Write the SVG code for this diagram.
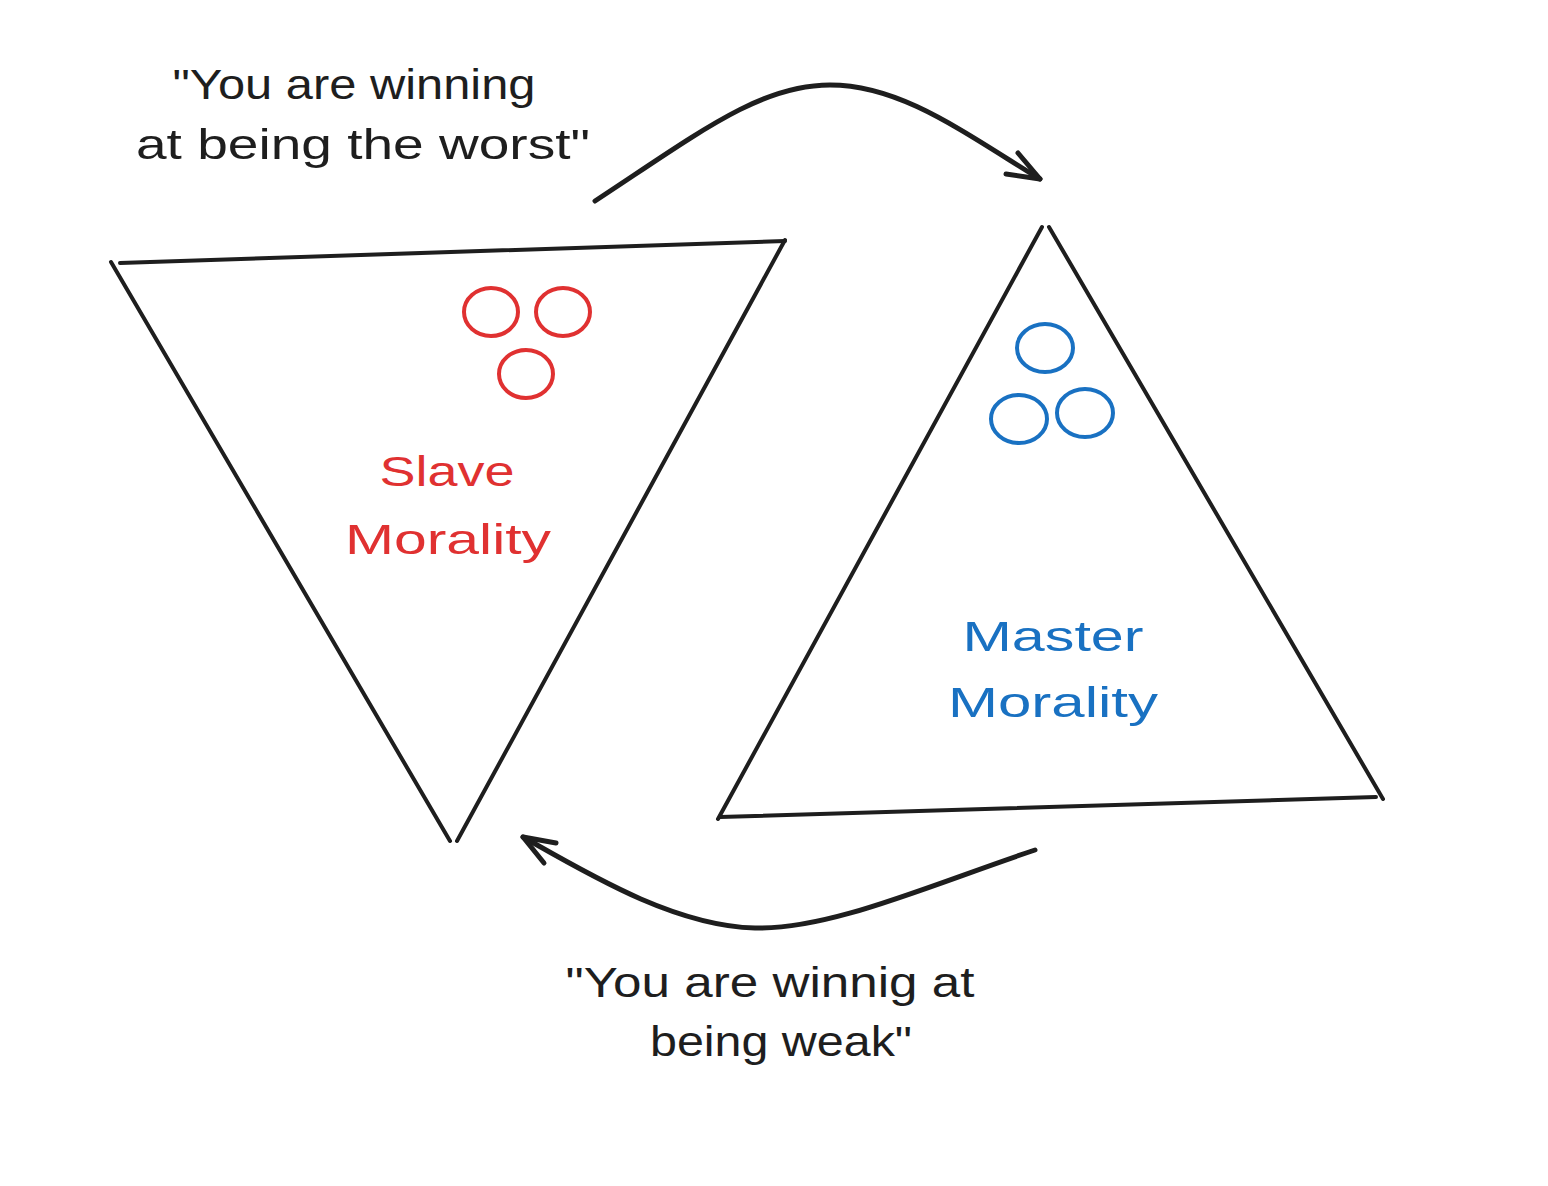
<svg xmlns="http://www.w3.org/2000/svg" width="1548" height="1186" viewBox="0 0 1548 1186">
<style>
.ln{fill:none;stroke:#1e1e1e;stroke-width:4;stroke-linecap:round;stroke-linejoin:round}
.ar{stroke-width:5}
.red{fill:none;stroke:#e03131;stroke-width:4}
.blue{fill:none;stroke:#1971c2;stroke-width:4}
.t{font-family:"Liberation Sans",Arial,sans-serif;font-size:42px;fill:#1e1e1e;text-anchor:middle}
.tr{fill:#e03131}
.tb{fill:#1971c2}
</style>
<rect width="1548" height="1186" fill="#ffffff"/>
<g id="slave-triangle">
<path class="ln" d="M120,263 L785,241"/>
<path class="ln" d="M111,262 L450,841"/>
<path class="ln" d="M785,240 L457,841"/>
<ellipse class="red" cx="491" cy="312" rx="27" ry="24"/>
<ellipse class="red" cx="563" cy="312" rx="27" ry="24"/>
<ellipse class="red" cx="526" cy="374" rx="27" ry="24"/>
<text class="t tr" x="447" y="486" textLength="135" lengthAdjust="spacingAndGlyphs">Slave</text>
<text class="t tr" x="448" y="554" textLength="206" lengthAdjust="spacingAndGlyphs">Morality</text>
</g>
<g id="master-triangle">
<path class="ln" d="M1042,227 L718,819"/>
<path class="ln" d="M1049,227 L1383,799"/>
<path class="ln" d="M720,817 L1376,797"/>
<ellipse class="blue" cx="1045" cy="348" rx="28" ry="24"/>
<ellipse class="blue" cx="1019" cy="419" rx="28" ry="24"/>
<ellipse class="blue" cx="1085" cy="413" rx="28" ry="24"/>
<text class="t tb" x="1053" y="651" textLength="181" lengthAdjust="spacingAndGlyphs">Master</text>
<text class="t tb" x="1053" y="717" textLength="210" lengthAdjust="spacingAndGlyphs">Morality</text>
</g>
<g id="label-top">
<text class="t" x="354" y="99" textLength="363" lengthAdjust="spacingAndGlyphs">"You are winning</text>
<text class="t" x="363" y="159" textLength="454" lengthAdjust="spacingAndGlyphs">at being the worst"</text>
</g>
<g id="label-bottom">
<text class="t" x="770" y="997" textLength="409" lengthAdjust="spacingAndGlyphs">"You are winnig at</text>
<text class="t" x="781" y="1056" textLength="262" lengthAdjust="spacingAndGlyphs">being weak"</text>
</g>
<g id="connectors">
<path class="ln ar" d="M595,201 C700,132 760,85 830,85 C900,85 960,130 1040,179"/>
<path class="ln ar" d="M1006,174 L1040,179 L1018,153"/>
<path class="ln ar" d="M1035,850 C930,885 830,930 755,928 C675,926 590,875 523,837"/>
<path class="ln ar" d="M556,843 L523,837 L544,863"/>
</g>
</svg>
